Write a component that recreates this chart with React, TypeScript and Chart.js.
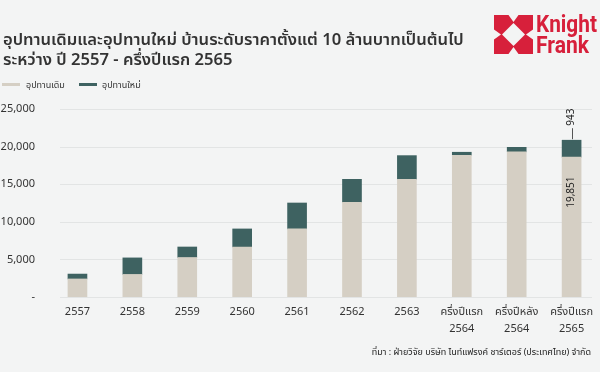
import React, { useEffect, useRef } from 'react';
import { Chart, registerables } from 'chart.js';

Chart.register(...registerables);

const categories: string[][] = [
  ['2557'], ['2558'], ['2559'], ['2560'], ['2561'], ['2562'], ['2563'],
  ['ครึ่งปีแรก', '2564'], ['ครึ่งปีหลัง', '2564'], ['ครึ่งปีแรก', '2565'],
];
const existingSupply = [2400, 3000, 5250, 6650, 9050, 12600, 15650, 18850, 19300, 18600];
const newSupply = [650, 2200, 1400, 2400, 3450, 3050, 3150, 400, 600, 2250];
const yTickValues = [0, 5000, 10000, 15000, 20000, 25000];
const seriesNames = ['อุปทานเดิม', 'อุปทานใหม่'];
const lastExistingLabel = '19,851';
const lastNewLabel = '943';
const titleLines = [
  'อุปทานเดิมและอุปทานใหม่ บ้านระดับราคาตั้งแต่ 10 ล้านบาทเป็นต้นไป',
  'ระหว่าง ปี 2557 - ครึ่งปีแรก 2565',
];
const sourceText = 'ที่มา : ฝ่ายวิจัย บริษัท ไนท์แฟรงค์ ชาร์เตอร์ (ประเทศไทย) จำกัด';

const FONT = "'Noto Sans', 'Noto Sans Thai', Lato, sans-serif";
const BEIGE = '#d5cfc4';
const TEAL = '#3e6261';
const RED = '#d7203b';
const TEXT = '#333333';
const BG = '#f3f4f4';

function fitText(ctx: any, text: string, x: number, y: number, width: number) {
  const w = ctx.measureText(text).width;
  ctx.save();
  ctx.translate(x, y);
  ctx.scale(width / w, 1);
  ctx.fillText(text, 0, 0);
  ctx.restore();
}

const decorPlugin = {
  id: 'decor',
  beforeDatasetsDraw(chart: any) {
    const { ctx } = chart;
    const y = chart.scales.y;
    ctx.save();
    ctx.strokeStyle = '#e2e4e4';
    ctx.lineWidth = 1;
    yTickValues.forEach((v) => {
      const py = Math.round(y.getPixelForValue(v)) + 0.5;
      ctx.beginPath();
      ctx.moveTo(60, py);
      ctx.lineTo(592, py);
      ctx.stroke();
    });
    ctx.restore();
  },
  afterDatasetsDraw(chart: any) {
    const { ctx } = chart;
    const last = categories.length - 1;
    const e0 = chart.getDatasetMeta(0).data[last];
    const e1 = chart.getDatasetMeta(1).data[last];
    ctx.save();
    ctx.fillStyle = '#222';
    ctx.font = `10px ${FONT}`;
    ctx.textAlign = 'center';
    ctx.textBaseline = 'middle';
    ctx.save();
    ctx.translate(e0.x, e0.y + 35);
    ctx.rotate(-Math.PI / 2);
    ctx.fillText(lastExistingLabel, 0, 0);
    ctx.restore();
    ctx.strokeStyle = '#555';
    ctx.lineWidth = 1;
    ctx.beginPath();
    ctx.moveTo(Math.round(e1.x) + 0.5, e1.y - 1);
    ctx.lineTo(Math.round(e1.x) + 0.5, e1.y - 12);
    ctx.stroke();
    ctx.save();
    ctx.translate(e1.x, e1.y - 23);
    ctx.rotate(-Math.PI / 2);
    ctx.fillText(lastNewLabel, 0, 0);
    ctx.restore();
    ctx.restore();
  },
  afterDraw(chart: any) {
    const { ctx } = chart;
    ctx.save();
    // title
    ctx.fillStyle = TEXT;
    ctx.font = `600 16.6px ${FONT}`;
    ctx.textAlign = 'left';
    ctx.textBaseline = 'alphabetic';
    ctx.fillText(titleLines[0], 3, 45);
    ctx.fillText(titleLines[1], 3, 65);
    // legend
    ctx.font = `9px ${FONT}`;
    ctx.textBaseline = 'middle';
    ctx.fillStyle = BEIGE;
    ctx.fillRect(2, 83, 18, 3);
    ctx.fillStyle = TEXT;
    ctx.fillText(seriesNames[0], 26, 85);
    ctx.fillStyle = TEAL;
    ctx.fillRect(79, 83, 18, 3);
    ctx.fillStyle = TEXT;
    ctx.fillText(seriesNames[1], 102, 85);
    // source
    ctx.font = `9px ${FONT}`;
    ctx.textAlign = 'right';
    ctx.fillStyle = '#222';
    ctx.fillText(sourceText, 591, 352);
    // logo
    const lx = 494, ly = 15, s = 39;
    const cx = lx + s / 2, cy = ly + s / 2;
    ctx.fillStyle = RED;
    ctx.fillRect(lx, ly, s, s);
    ctx.fillStyle = BG;
    ctx.beginPath();
    ctx.moveTo(cx, cy - 11.5);
    ctx.lineTo(cx + 11.5, cy);
    ctx.lineTo(cx, cy + 11.5);
    ctx.lineTo(cx - 11.5, cy);
    ctx.closePath();
    ctx.fill();
    const notch = (ax: number, ay: number, bx: number, by: number, tx: number, ty: number) => {
      ctx.beginPath();
      ctx.moveTo(ax, ay);
      ctx.lineTo(bx, by);
      ctx.lineTo(tx, ty);
      ctx.closePath();
      ctx.fill();
    };
    notch(cx - 5, ly, cx + 5, ly, cx, ly + 7);
    notch(cx - 5, ly + s, cx + 5, ly + s, cx, ly + s - 7);
    notch(lx, cy - 5, lx, cy + 5, lx + 7, cy);
    notch(lx + s, cy - 5, lx + s, cy + 5, lx + s - 7, cy);
    ctx.fillStyle = RED;
    ctx.font = `bold 23px Roboto, 'Liberation Sans', sans-serif`;
    ctx.textAlign = 'left';
    ctx.textBaseline = 'alphabetic';
    fitText(ctx, 'Knight', 536, 32, 61);
    fitText(ctx, 'Frank', 536, 53, 53);
    ctx.restore();
  },
};

export default function App() {
  const ref = useRef<HTMLCanvasElement>(null);
  useEffect(() => {
    if (!ref.current) return;
    const chart = new Chart(ref.current, {
      type: 'bar',
      data: {
        labels: categories,
        datasets: [
          { label: seriesNames[0], data: existingSupply, backgroundColor: BEIGE, barThickness: 19 },
          { label: seriesNames[1], data: newSupply, backgroundColor: TEAL, barThickness: 19 },
        ],
      },
      options: {
        animation: false,
        responsive: false,
        layout: { padding: { top: 109, bottom: 33, left: 0, right: 0 } },
        plugins: { legend: { display: false }, title: { display: false }, tooltip: { enabled: false } },
        scales: {
          x: {
            stacked: true,
            grid: { display: false, drawTicks: false },
            border: { display: false },
            ticks: { color: TEXT, font: { family: FONT, size: 11, lineHeight: 1.5 }, padding: 7, maxRotation: 0, autoSkip: false },
            afterFit: (scale: any) => { scale.height = 42; },
          },
          y: {
            stacked: true,
            min: 0,
            max: 25000,
            grid: { display: false, drawTicks: false },
            border: { display: false },
            afterBuildTicks: (scale: any) => { scale.ticks = yTickValues.map((v) => ({ value: v })); },
            afterFit: (scale: any) => { scale.width = 50; },
            ticks: {
              color: TEXT,
              padding: 15,
              font: { family: FONT, size: 11 },
              callback: (v: any) => (Number(v) === 0 ? '-' : Number(v).toLocaleString('en-US')),
            },
          },
        },
      },
      plugins: [decorPlugin],
    });
    return () => chart.destroy();
  }, []);
  return (
    <div style={{ position: 'absolute', left: 0, top: 0, width: 600, height: 372, background: BG }}>
      <canvas ref={ref} width={600} height={372} />
    </div>
  );
}
